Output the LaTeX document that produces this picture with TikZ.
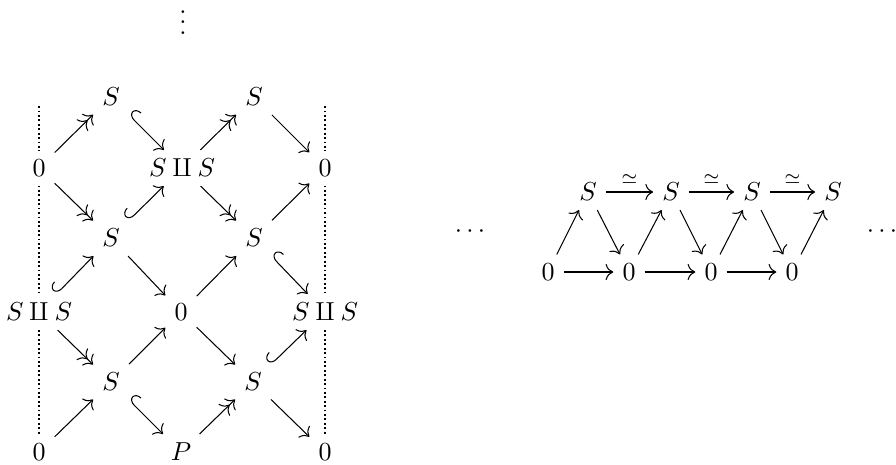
\documentclass[tikz,border=0pt]{standalone}
\usetikzlibrary{arrows.meta}
\begin{document}
\begin{tikzpicture}[x=0.3846pt,y=-0.3846pt,
  every node/.style={inner sep=3.33pt},
  >={Computer Modern Rightarrow[scale=1.2]},
  epi/.style={-{Computer Modern Rightarrow[scale=1.2]Computer Modern Rightarrow[scale=1.2]}},
  mono/.style={{Hooks[right,length=2.8pt,width=8pt]}->},
  plainar/.style={->},
  dotline/.style={line width=0.7pt,dash pattern=on 0.7pt off 1.0pt},
  lab/.style={above,inner sep=3pt}]
\useasboundingbox (0,0) rectangle (896,464);
% left diagram
\node[anchor=base,inner sep=0pt] (vd) at (183,34) {$\smash{\vdots}$};
\node (t0) at (39,97) {};
\node (t4) at (325,97) {};
\node (a1) at (111,97) {$S$};
\node (a3) at (254,97) {$S$};
\node (b0) at (39,168) {$0$};
\node (b2) at (182,168) {$S\amalg S$};
\node (b4) at (325,168) {$0$};
\node (c1) at (111,238) {$S$};
\node (c3) at (254,238) {$S$};
\node (d0) at (39,312) {$S\amalg S$};
\node (d2) at (181,312) {$0$};
\node (d4) at (325,312) {$S\amalg S$};
\node (e1) at (111,382) {$S$};
\node (e3) at (253,382) {$S$};
\node (f0) at (39,452) {$0$};
\node (f2) at (181,452) {$P$};
\node (f4) at (325,452) {$0$};
\draw[dotline] (t0) -- (b0);
\draw[dotline] (b0) -- (d0);
\draw[dotline] (d0) -- (f0);
\draw[dotline] (t4) -- (b4);
\draw[dotline] (b4) -- (d4);
\draw[dotline] (d4) -- (f4);
\draw[epi] (b0) -- (a1);
\draw[mono] (a1) -- (b2);
\draw[epi] (b0) -- (c1);
\draw[mono] (c1) -- (b2);
\draw[epi] (b2) -- (a3);
\draw[plainar] (a3) -- (b4);
\draw[epi] (b2) -- (c3);
\draw[plainar] (c3) -- (b4);
\draw[plainar] (c1) -- (d2);
\draw[mono] (d0) -- (c1);
\draw[epi] (d0) -- (e1);
\draw[plainar] (f0) -- (e1);
\draw[plainar] (e1) -- (d2);
\draw[mono] (e1) -- (f2);
\draw[plainar] (d2) -- (c3);
\draw[mono] (c3) -- (d4);
\draw[plainar] (d2) -- (e3);
\draw[epi] (f2) -- (e3);
\draw[mono] (e3) -- (d4);
\draw[plainar] (e3) -- (f4);
% right diagram
\node (s1) at (588,192) {$S$};
\node (s2) at (671,192) {$S$};
\node (s3) at (752,192) {$S$};
\node (s4) at (833,192) {$S$};
\node (z1) at (548,272) {$0$};
\node (z2) at (629,272) {$0$};
\node (z3) at (711,272) {$0$};
\node (z4) at (792,272) {$0$};
\node (ld) at (470,232) {$\cdots$};
\node (rd) at (882,232) {$\cdots$};
\draw[plainar] (s1) -- node[lab] {$\scriptstyle\simeq$} (s2);
\draw[plainar] (s2) -- node[lab] {$\scriptstyle\simeq$} (s3);
\draw[plainar] (s3) -- node[lab] {$\scriptstyle\simeq$} (s4);
\draw[plainar] (z1) -- (z2);
\draw[plainar] (z2) -- (z3);
\draw[plainar] (z3) -- (z4);
\draw[plainar] (z1) -- (s1);
\draw[plainar] (z2) -- (s2);
\draw[plainar] (z3) -- (s3);
\draw[plainar] (z4) -- (s4);
\draw[plainar] (s1) -- (z2);
\draw[plainar] (s2) -- (z3);
\draw[plainar] (s3) -- (z4);
\end{tikzpicture}
\end{document}
